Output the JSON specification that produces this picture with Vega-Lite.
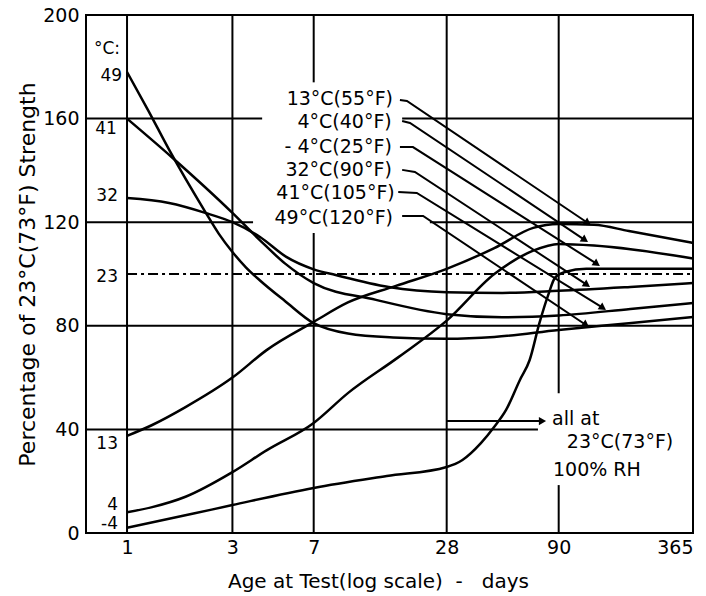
{
  "$schema": "https://vega.github.io/schema/vega-lite/v6.json",
  "width": 607,
  "height": 518,
  "autosize": {"type": "none"},
  "padding": {"left": 86, "top": 15, "right": 13, "bottom": 63},
  "background": "white",
  "config": {
    "font": "DejaVu Sans",
    "view": {"stroke": "black", "strokeWidth": 2},
    "axis": {"grid": false, "ticks": false, "tickSize": 0, "domain": false, "labelColor": "black", "titleColor": "black", "labelFont": "DejaVu Sans", "titleFont": "DejaVu Sans", "labelFontSize": 19, "titleFontSize": 19, "titleFontWeight": "normal"}
  },
  "datasets": {
    "curves": [
      {"s": "49", "day": 1, "pct": 178}, {"s": "49", "day": 1.25, "pct": 163}, {"s": "49", "day": 1.55, "pct": 148}, {"s": "49", "day": 2.26, "pct": 124}, {"s": "49", "day": 2.6, "pct": 115.6}, {"s": "49", "day": 3, "pct": 108.5}, {"s": "49", "day": 3.46, "pct": 102.5}, {"s": "49", "day": 4, "pct": 97.5}, {"s": "49", "day": 5.2, "pct": 89.5}, {"s": "49", "day": 7, "pct": 81}, {"s": "49", "day": 10, "pct": 77}, {"s": "49", "day": 16, "pct": 75.5}, {"s": "49", "day": 28, "pct": 75}, {"s": "49", "day": 46, "pct": 75.7}, {"s": "49", "day": 90, "pct": 78.4}, {"s": "49", "day": 187, "pct": 81}, {"s": "49", "day": 365, "pct": 83.4},
      {"s": "41", "day": 1, "pct": 160}, {"s": "41", "day": 1.6, "pct": 145}, {"s": "41", "day": 3, "pct": 123.6}, {"s": "41", "day": 4, "pct": 113}, {"s": "41", "day": 5.2, "pct": 104}, {"s": "41", "day": 7, "pct": 96.5}, {"s": "41", "day": 13.4, "pct": 90}, {"s": "41", "day": 28, "pct": 84.5}, {"s": "41", "day": 50, "pct": 83.3}, {"s": "41", "day": 90, "pct": 84}, {"s": "41", "day": 190, "pct": 86.5}, {"s": "41", "day": 365, "pct": 88.8},
      {"s": "32", "day": 1, "pct": 129.3}, {"s": "32", "day": 1.55, "pct": 127.4}, {"s": "32", "day": 2.26, "pct": 123.6}, {"s": "32", "day": 3, "pct": 120}, {"s": "32", "day": 4, "pct": 114.3}, {"s": "32", "day": 5.26, "pct": 106.6}, {"s": "32", "day": 7, "pct": 101.8}, {"s": "32", "day": 8.8, "pct": 99.6}, {"s": "32", "day": 15.3, "pct": 95}, {"s": "32", "day": 28, "pct": 93}, {"s": "32", "day": 50, "pct": 92.7}, {"s": "32", "day": 90, "pct": 93.5}, {"s": "32", "day": 190, "pct": 95}, {"s": "32", "day": 365, "pct": 96.5},
      {"s": "13", "day": 1, "pct": 37.5}, {"s": "13", "day": 1.3, "pct": 41.7}, {"s": "13", "day": 1.84, "pct": 48.6}, {"s": "13", "day": 3, "pct": 60}, {"s": "13", "day": 4.3, "pct": 70.7}, {"s": "13", "day": 7, "pct": 81.5}, {"s": "13", "day": 10, "pct": 89}, {"s": "13", "day": 16.5, "pct": 95.4}, {"s": "13", "day": 28, "pct": 102}, {"s": "13", "day": 46, "pct": 110}, {"s": "13", "day": 69, "pct": 117.8}, {"s": "13", "day": 90, "pct": 119.3}, {"s": "13", "day": 130, "pct": 119}, {"s": "13", "day": 187, "pct": 116.6}, {"s": "13", "day": 365, "pct": 112},
      {"s": "4", "day": 1, "pct": 8}, {"s": "4", "day": 1.3, "pct": 10}, {"s": "4", "day": 1.84, "pct": 14}, {"s": "4", "day": 3, "pct": 23.5}, {"s": "4", "day": 4.3, "pct": 32}, {"s": "4", "day": 7, "pct": 42.5}, {"s": "4", "day": 10, "pct": 54}, {"s": "4", "day": 17, "pct": 68}, {"s": "4", "day": 28, "pct": 82}, {"s": "4", "day": 46, "pct": 100}, {"s": "4", "day": 69, "pct": 109}, {"s": "4", "day": 90, "pct": 111.6}, {"s": "4", "day": 130, "pct": 111}, {"s": "4", "day": 365, "pct": 106},
      {"s": "-4", "day": 1, "pct": 2}, {"s": "-4", "day": 2, "pct": 7.5}, {"s": "-4", "day": 3, "pct": 10.8}, {"s": "-4", "day": 7, "pct": 17.4}, {"s": "-4", "day": 15, "pct": 22}, {"s": "-4", "day": 28, "pct": 25.5}, {"s": "-4", "day": 33, "pct": 28.2}, {"s": "-4", "day": 40, "pct": 34.7}, {"s": "-4", "day": 46, "pct": 41}, {"s": "-4", "day": 52, "pct": 47.5}, {"s": "-4", "day": 60, "pct": 59}, {"s": "-4", "day": 66.5, "pct": 66.8}, {"s": "-4", "day": 73.6, "pct": 81}, {"s": "-4", "day": 81.3, "pct": 92.7}, {"s": "-4", "day": 86.5, "pct": 98.5}, {"s": "-4", "day": 96, "pct": 100.8}, {"s": "-4", "day": 120, "pct": 102}, {"s": "-4", "day": 365, "pct": 102}
    ],
    "vgrid": [
      {"day": 1, "pct": 0, "pct2": 200}, {"day": 3, "pct": 0, "pct2": 200},
      {"day": 7, "pct": 0, "pct2": 115.8}, {"day": 7, "pct": 174, "pct2": 200},
      {"day": 28, "pct": 0, "pct2": 200},
      {"day": 90, "pct": 0, "pct2": 18.5}, {"day": 90, "pct": 54, "pct2": 200}
    ],
    "hgrid": [
      {"day": 0.652, "day2": 365, "pct": 80},
      {"day": 0.652, "day2": 72.5, "pct": 40},
      {"day": 0.652, "day2": 3.72, "pct": 120}, {"day": 23.5, "day2": 365, "pct": 120},
      {"day": 0.652, "day2": 4.09, "pct": 160}, {"day": 17.6, "day2": 365, "pct": 160}
    ],
    "dashed": [{"day": 1, "day2": 365, "pct": 100}],
    "leaders": [
      {"s": "13", "ord": 0, "day": 17.2, "pct": 167.2}, {"s": "13", "ord": 1, "day": 18.5, "pct": 166.8}, {"s": "13", "ord": 2, "day": 122, "pct": 119.7},
      {"s": "4", "ord": 0, "day": 17.6, "pct": 159.1}, {"s": "4", "ord": 1, "day": 19.1, "pct": 158.3}, {"s": "4", "ord": 2, "day": 118.4, "pct": 113.1},
      {"s": "-4", "ord": 0, "day": 17.2, "pct": 149}, {"s": "-4", "ord": 1, "day": 19.7, "pct": 149}, {"s": "-4", "ord": 2, "day": 134, "pct": 103.9},
      {"s": "32", "ord": 0, "day": 17.6, "pct": 140.2}, {"s": "32", "ord": 1, "day": 20.1, "pct": 139.4}, {"s": "32", "ord": 2, "day": 120.9, "pct": 95.8},
      {"s": "41", "ord": 0, "day": 16.9, "pct": 131.7}, {"s": "41", "ord": 1, "day": 20.5, "pct": 131.3}, {"s": "41", "ord": 2, "day": 142.8, "pct": 86.9},
      {"s": "49", "ord": 0, "day": 17.6, "pct": 122.4}, {"s": "49", "ord": 1, "day": 21.9, "pct": 122.4}, {"s": "49", "ord": 2, "day": 119.7, "pct": 80.3},
      {"s": "all", "ord": 0, "day": 28, "pct": 43.2}, {"s": "all", "ord": 1, "day": 76, "pct": 43.2}
    ],
    "tips": [
      {"day": 122, "pct": 119.7}, {"day": 118.4, "pct": 113.1}, {"day": 134, "pct": 103.9},
      {"day": 120.9, "pct": 95.8}, {"day": 142.8, "pct": 86.9}, {"day": 119.7, "pct": 80.3}
    ],
    "allTip": [{"day": 76, "pct": 43.2}],
    "leftLabels": [
      {"text": "°C:", "day": 0.93, "pct": 186.9},
      {"text": "49", "day": 0.95, "pct": 176.4},
      {"text": "41", "day": 0.9, "pct": 156},
      {"text": "32", "day": 0.91, "pct": 130.1},
      {"text": "23", "day": 0.91, "pct": 98.8},
      {"text": "13", "day": 0.91, "pct": 34.4},
      {"text": "4", "day": 0.91, "pct": 10.8},
      {"text": "-4", "day": 0.91, "pct": 3.5}
    ],
    "rightLabels": [
      {"text": "13°C(55°F)", "day": 16, "pct": 167.6},
      {"text": "4°C(40°F)", "day": 15.8, "pct": 158.7},
      {"text": "- 4°C(25°F)", "day": 15.8, "pct": 149},
      {"text": "32°C(90°F)", "day": 15.8, "pct": 140.2},
      {"text": "41°C(105°F)", "day": 16.3, "pct": 131.3},
      {"text": "49°C(120°F)", "day": 16, "pct": 121.6}
    ],
    "noteLabels": [
      {"text": "all at", "day": 84, "pct": 44},
      {"text": "23°C(73°F)", "day": 98, "pct": 35.1},
      {"text": "100% RH", "day": 84.8, "pct": 24.3}
    ]
  },
  "layer": [
    {
      "data": {"name": "vgrid"},
      "mark": {"type": "rule", "color": "black", "strokeWidth": 2},
      "encoding": {
        "x": {"field": "day", "type": "quantitative", "scale": {"type": "log", "domain": [0.652, 365], "nice": false, "zero": false},
          "axis": {"values": [1, 3, 7, 28, 90, 365], "format": "d", "title": "Age at Test(log scale)\u00a0\u00a0-\u00a0\u00a0 days", "titleFontSize": 20, "labelPadding": 5, "titlePadding": 14, "titleX": 292, "labelFlush": 1, "labelOverlap": false}},
        "y": {"field": "pct", "type": "quantitative", "scale": {"domain": [0, 200], "nice": false, "zero": false},
          "axis": {"values": [0, 40, 80, 120, 160, 200], "title": "Percentage of 23°C(73°F) Strength", "titleFontSize": 22, "labelPadding": 7, "titlePadding": 3, "labelFlush": false}},
        "y2": {"field": "pct2"}
      }
    },
    {
      "data": {"name": "hgrid"},
      "mark": {"type": "rule", "color": "black", "strokeWidth": 2},
      "encoding": {
        "x": {"field": "day", "type": "quantitative"},
        "x2": {"field": "day2"},
        "y": {"field": "pct", "type": "quantitative"}
      }
    },
    {
      "data": {"name": "dashed"},
      "mark": {"type": "rule", "color": "black", "strokeWidth": 2, "strokeDash": [10, 4, 3, 4]},
      "encoding": {
        "x": {"field": "day", "type": "quantitative"},
        "x2": {"field": "day2"},
        "y": {"field": "pct", "type": "quantitative"}
      }
    },
    {
      "data": {"name": "curves"},
      "mark": {"type": "line", "color": "black", "strokeWidth": 2.5, "interpolate": "monotone"},
      "encoding": {
        "x": {"field": "day", "type": "quantitative"},
        "y": {"field": "pct", "type": "quantitative"},
        "detail": {"field": "s"}
      }
    },
    {
      "data": {"name": "leaders"},
      "mark": {"type": "line", "color": "black", "strokeWidth": 2},
      "encoding": {
        "x": {"field": "day", "type": "quantitative"},
        "y": {"field": "pct", "type": "quantitative"},
        "detail": {"field": "s"},
        "order": {"field": "ord"}
      }
    },
    {
      "data": {"name": "tips"},
      "mark": {"type": "point", "shape": "triangle-right", "filled": true, "color": "black", "opacity": 1, "size": 70, "angle": 34},
      "encoding": {
        "x": {"field": "day", "type": "quantitative"},
        "y": {"field": "pct", "type": "quantitative"}
      }
    },
    {
      "data": {"name": "allTip"},
      "mark": {"type": "point", "shape": "triangle-right", "filled": true, "color": "black", "opacity": 1, "size": 70},
      "encoding": {
        "x": {"field": "day", "type": "quantitative"},
        "y": {"field": "pct", "type": "quantitative"}
      }
    },
    {
      "data": {"name": "leftLabels"},
      "mark": {"type": "text", "align": "right", "baseline": "middle", "fontSize": 17, "color": "black"},
      "encoding": {
        "x": {"field": "day", "type": "quantitative"},
        "y": {"field": "pct", "type": "quantitative"},
        "text": {"field": "text"}
      }
    },
    {
      "data": {"name": "rightLabels"},
      "mark": {"type": "text", "align": "right", "baseline": "middle", "fontSize": 19, "color": "black"},
      "encoding": {
        "x": {"field": "day", "type": "quantitative"},
        "y": {"field": "pct", "type": "quantitative"},
        "text": {"field": "text"}
      }
    },
    {
      "data": {"name": "noteLabels"},
      "mark": {"type": "text", "align": "left", "baseline": "middle", "fontSize": 19, "color": "black"},
      "encoding": {
        "x": {"field": "day", "type": "quantitative"},
        "y": {"field": "pct", "type": "quantitative"},
        "text": {"field": "text"}
      }
    }
  ]
}
